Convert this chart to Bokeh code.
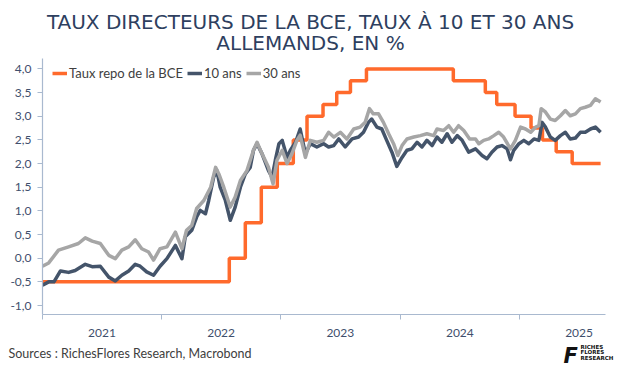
import pandas as pd
from bokeh.plotting import figure
from bokeh.layouts import column
from bokeh.models import FixedTicker, Range1d, CustomJSTickFormatter
from bokeh.core.properties import value
from bokeh.embed import file_html
from bokeh.resources import INLINE

# ---------------- data ----------------
repo_dates = ["2021-01-01", "2022-07-27", "2022-09-14", "2022-11-02", "2022-12-21",
              "2023-02-08", "2023-03-22", "2023-05-10", "2023-06-21", "2023-08-02",
              "2023-09-20", "2024-06-12", "2024-09-18", "2024-10-23", "2024-12-18",
              "2025-02-05", "2025-03-12", "2025-04-23", "2025-06-11", "2025-09-06"]
repo_vals = [-0.5, 0.0, 0.75, 1.5, 2.0, 2.5, 3.0, 3.25, 3.5, 3.75,
             4.0, 3.75, 3.5, 3.25, 3.0, 2.75, 2.5, 2.25, 2.0, 2.0]

y10_dates = ["2021-01-01", "2021-01-20", "2021-02-05", "2021-02-25", "2021-03-22", "2021-04-11",
             "2021-05-12", "2021-06-02", "2021-06-27", "2021-07-23", "2021-08-12", "2021-09-01",
             "2021-09-22", "2021-10-12", "2021-10-27", "2021-11-16", "2021-12-07", "2021-12-27",
             "2022-01-17", "2022-02-12", "2022-03-04", "2022-03-14", "2022-04-03", "2022-04-18",
             "2022-04-29", "2022-05-15", "2022-05-25", "2022-06-09", "2022-06-19", "2022-06-29",
             "2022-07-15", "2022-07-30", "2022-08-14", "2022-08-30", "2022-09-14", "2022-09-29",
             "2022-10-09", "2022-10-20", "2022-11-04", "2022-11-24", "2022-12-05", "2022-12-15",
             "2022-12-26", "2023-01-05", "2023-01-20", "2023-01-30", "2023-02-15", "2023-03-01",
             "2023-03-17", "2023-04-01", "2023-04-21", "2023-05-12", "2023-05-27", "2023-06-12",
             "2023-06-27", "2023-07-17", "2023-08-07", "2023-08-27", "2023-09-11", "2023-09-26",
             "2023-10-06", "2023-10-22", "2023-11-06", "2023-11-21", "2023-12-07", "2023-12-22",
             "2024-01-07", "2024-01-22", "2024-02-06", "2024-02-22", "2024-03-08", "2024-03-23",
             "2024-04-08", "2024-04-23", "2024-05-08", "2024-05-24", "2024-06-08", "2024-06-24",
             "2024-07-09", "2024-07-29", "2024-08-19", "2024-09-08", "2024-09-23", "2024-10-08",
             "2024-10-24", "2024-11-08", "2024-11-24", "2024-12-04", "2024-12-14", "2024-12-30",
             "2025-01-14", "2025-01-29", "2025-02-14", "2025-03-01", "2025-03-11", "2025-03-21",
             "2025-04-05", "2025-04-20", "2025-05-06", "2025-05-21", "2025-06-05", "2025-06-21",
             "2025-07-06", "2025-07-21", "2025-08-06", "2025-08-21", "2025-09-06"]
y10_vals = [-0.57, -0.50, -0.50, -0.27, -0.30, -0.26,
            -0.13, -0.18, -0.17, -0.40, -0.48, -0.36,
            -0.27, -0.13, -0.17, -0.29, -0.36, -0.17,
            -0.01, 0.27, -0.01, 0.45, 0.59, 0.87,
            1.01, 0.94, 1.22, 1.71, 1.85, 1.50,
            1.22, 0.80, 1.08, 1.50, 1.78, 1.92,
            2.28, 2.42, 2.21, 1.85, 1.71, 2.07,
            2.42, 2.49, 2.13, 2.28, 2.45, 2.73,
            2.21, 2.42, 2.35, 2.42, 2.35, 2.38,
            2.52, 2.35, 2.52, 2.56, 2.66, 2.87,
            2.94, 2.77, 2.73, 2.49, 2.24, 1.94,
            2.13, 2.28, 2.31, 2.45, 2.35, 2.49,
            2.38, 2.56, 2.45, 2.63, 2.45, 2.59,
            2.49, 2.24, 2.31, 2.17, 2.10, 2.24,
            2.35, 2.38, 2.31, 2.08, 2.28, 2.42,
            2.49, 2.42, 2.52, 2.49, 2.87, 2.77,
            2.56, 2.49, 2.59, 2.66, 2.52, 2.54,
            2.66, 2.66, 2.73, 2.77, 2.66]

y30_dates = ["2021-01-01", "2021-01-20", "2021-02-19", "2021-03-22", "2021-04-21", "2021-05-12",
             "2021-06-02", "2021-06-27", "2021-07-23", "2021-08-12", "2021-09-01", "2021-09-22",
             "2021-10-12", "2021-11-01", "2021-11-22", "2021-12-07", "2021-12-27", "2022-01-17",
             "2022-02-12", "2022-03-04", "2022-03-18", "2022-04-03", "2022-04-18", "2022-05-10",
             "2022-05-31", "2022-06-15", "2022-06-25", "2022-07-10", "2022-07-30", "2022-08-14",
             "2022-08-30", "2022-09-19", "2022-10-09", "2022-10-20", "2022-11-04", "2022-11-24",
             "2022-12-08", "2022-12-20", "2023-01-05", "2023-01-20", "2023-02-04", "2023-02-19",
             "2023-03-01", "2023-03-17", "2023-04-01", "2023-04-21", "2023-05-12", "2023-05-27",
             "2023-06-12", "2023-07-02", "2023-07-22", "2023-08-12", "2023-09-01", "2023-09-16",
             "2023-09-29", "2023-10-11", "2023-10-27", "2023-11-11", "2023-11-27", "2023-12-12",
             "2023-12-25", "2024-01-07", "2024-01-22", "2024-02-12", "2024-03-03", "2024-03-23",
             "2024-04-13", "2024-04-23", "2024-05-13", "2024-05-29", "2024-06-13", "2024-06-28",
             "2024-07-14", "2024-08-01", "2024-08-19", "2024-08-29", "2024-09-13", "2024-09-28",
             "2024-10-14", "2024-10-29", "2024-11-13", "2024-12-04", "2024-12-19", "2025-01-04",
             "2025-01-19", "2025-02-04", "2025-02-19", "2025-03-01", "2025-03-08", "2025-03-21",
             "2025-04-05", "2025-04-20", "2025-05-06", "2025-05-21", "2025-06-05", "2025-06-21",
             "2025-07-06", "2025-07-21", "2025-08-06", "2025-08-21", "2025-09-06"]
y30_vals = [-0.17, -0.10, 0.17, 0.24, 0.31, 0.43,
            0.36, 0.31, 0.06, -0.01, 0.17, 0.24,
            0.39, 0.20, 0.13, -0.04, 0.20, 0.24,
            0.55, 0.20, 0.59, 0.69, 1.05, 1.22,
            1.50, 1.92, 1.78, 1.50, 1.08, 1.29,
            1.64, 1.85, 2.28, 2.45, 2.21, 1.92,
            1.57, 2.07, 2.28, 2.00, 2.21, 2.49,
            2.60, 2.13, 2.49, 2.45, 2.49, 2.66,
            2.56, 2.66, 2.52, 2.73, 2.77, 2.87,
            3.16, 3.05, 3.05, 2.87, 2.63, 2.42,
            2.17, 2.38, 2.52, 2.56, 2.59, 2.63,
            2.59, 2.73, 2.70, 2.80, 2.66, 2.80,
            2.70, 2.52, 2.52, 2.42, 2.49, 2.52,
            2.59, 2.66, 2.56, 2.31, 2.49, 2.77,
            2.73, 2.66, 2.77, 2.80, 3.16, 3.09,
            2.94, 2.91, 3.01, 3.12, 3.01, 3.05,
            3.16, 3.19, 3.23, 3.37, 3.30]

years = [2021, 2022, 2023, 2024, 2025]
y_ticks = [-1.0, -0.5, 0.0, 0.5, 1.0, 1.5, 2.0, 2.5, 3.0, 3.5, 4.0]

series_labels = ["Taux repo de la BCE", "10 ans", "30 ans"]
title_lines = ["TAUX DIRECTEURS DE LA BCE, TAUX À 10 ET 30 ANS", "ALLEMANDS, EN %"]
source_text = "Sources : RichesFlores Research, Macrobond"
logo_words = ["RICHES", "FLORES", "RESEARCH"]

# ---------------- helpers ----------------
def ms(d):
    return pd.Timestamp(d).value // 10**6

ORANGE = "#FF6A2C"
NAVY = "#44546A"
GREY = "#A6A6A6"
AXIS = "#A9B9CF"
TICKTXT = "#3F4F6D"
TITLE_COL = "#2E3F5F"


def strip(height, y_top):
    s = figure(width=620, height=height, x_range=Range1d(0, 620),
               y_range=Range1d(y_top + height, y_top),
               x_axis_type=None, y_axis_type=None, output_backend="svg",
               toolbar_location=None, title_location=None,
               min_border_left=0, min_border_right=0, min_border_top=0, min_border_bottom=0)
    s.frame_align = False
    s.xgrid.visible = False
    s.ygrid.visible = False
    s.outline_line_color = None
    s.background_fill_color = "white"
    s.border_fill_color = "white"
    return s

# ---------------- title strip ----------------
t = strip(58, 0)
t.text(x=[310, 310], y=[21, 42], text=title_lines, text_align="center",
       text_baseline="middle", text_font=value("DejaVu Sans"), text_font_size="20px",
       text_color=TITLE_COL)

# ---------------- main chart ----------------
x_start = ms("2021-01-01")
x_end = ms("2025-09-21")

p = figure(width=620, height=282, x_axis_type="datetime",
           x_range=Range1d(x_start, x_end), y_range=Range1d(-1.19, 4.22),
           output_backend="svg", toolbar_location=None, title_location=None,
           min_border_left=42, min_border_right=15, min_border_top=0, min_border_bottom=26)
p.frame_align = False
p.xgrid.visible = False
p.ygrid.visible = False
p.outline_line_color = None
p.background_fill_color = "white"
p.border_fill_color = "white"

p.step(pd.to_datetime(repo_dates), repo_vals, mode="after", line_width=3.5,
       color=ORANGE, legend_label=series_labels[0])
p.line(pd.to_datetime(y10_dates), y10_vals, line_width=3.5, color=NAVY,
       line_join="round", legend_label=series_labels[1])
p.line(pd.to_datetime(y30_dates), y30_vals, line_width=3.5, color=GREY,
       line_join="round", legend_label=series_labels[2])

p.xaxis.ticker = FixedTicker(ticks=[ms(f"{y}-07-02") for y in years],
                             minor_ticks=[ms(f"{y}-01-01") for y in years])
p.xaxis.formatter = CustomJSTickFormatter(code="return new Date(tick).getUTCFullYear().toString();")
p.xaxis.major_tick_out = 0
p.xaxis.major_tick_in = 0
p.xaxis.minor_tick_out = 5
p.xaxis.minor_tick_in = 0
p.xaxis.minor_tick_line_color = AXIS
p.xaxis.major_label_standoff = 9

p.yaxis.ticker = FixedTicker(ticks=y_ticks, minor_ticks=[])
p.yaxis.formatter = CustomJSTickFormatter(code="return tick.toFixed(1).replace('.', ',');")
p.yaxis.major_tick_out = 5
p.yaxis.major_tick_in = 0
p.yaxis.major_label_standoff = 6

for ax in (p.xaxis, p.yaxis):
    ax.axis_line_color = AXIS
    ax.axis_line_width = 1.2
    ax.major_tick_line_color = AXIS
    ax.major_label_text_font = "Lato"
    ax.major_label_text_font_size = "12px"
    ax.major_label_text_color = TICKTXT

lg = p.legend[0]
lg.location = (10, 233)
lg.orientation = "horizontal"
lg.border_line_color = None
lg.background_fill_alpha = 0
lg.padding = 0
lg.margin = 0
lg.spacing = 4
lg.label_standoff = 2
lg.glyph_width = 15
lg.glyph_height = 14
lg.label_height = 14
lg.label_text_font = "Lato"
lg.label_text_font_size = "13px"
lg.label_text_color = "#404040"

# ---------------- footer strip (source + logo) ----------------
f = strip(32, 340)
f.text(x=[8], y=[353], text=[source_text], text_align="left", text_baseline="middle",
       text_font=value("Lato"), text_font_size="12.5px", text_color="#404040")
f.text(x=[563], y=[355], text=["F"], text_align="left", text_baseline="middle",
       text_font=value("DejaVu Sans"), text_font_style="bold italic",
       text_font_size="21px", text_color="#111111")
f.text(x=[580, 580, 580], y=[346, 351.5, 357], text=logo_words, text_align="left",
       text_baseline="middle", text_font=value("DejaVu Sans"), text_font_style="bold",
       text_font_size="5.5px", text_color="#111111")

layout = column(t, p, f, spacing=0)
open("out.html", "w").write(file_html(layout, INLINE))
